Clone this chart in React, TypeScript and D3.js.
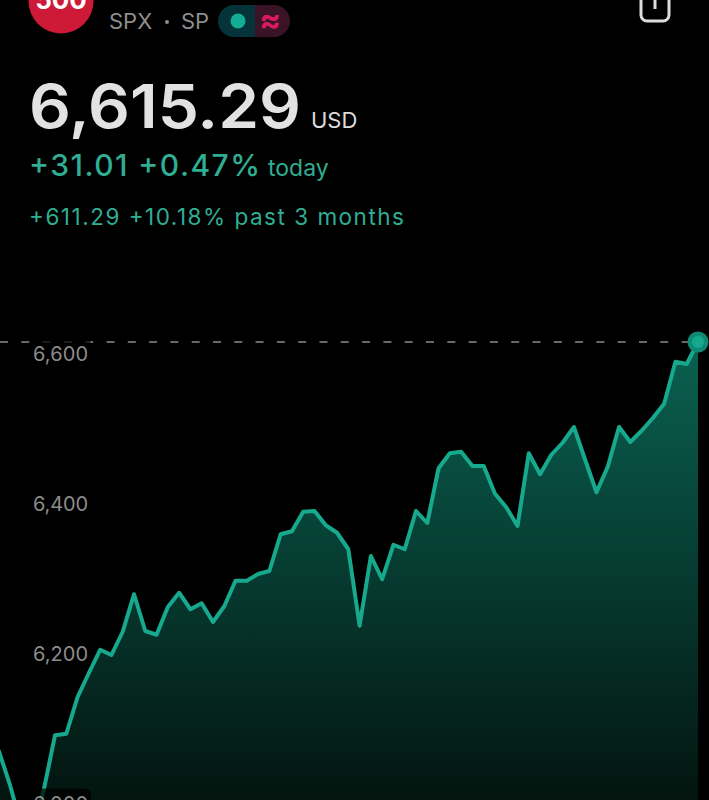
import React from "react";
import * as d3 from "d3";

const W = 709, H = 800;
const prices = [6071,6025,5971,5965,6018,6091,6093,6142,6174,6205,6198,6229,6279,6230,6225,6262,6281,6259,6267,6242,6263,6297,6297,6306,6310,6359,6363,6389,6390,6371,6361,6339,6237,6330,6299,6345,6339,6390,6374,6447,6467,6469,6450,6450,6413,6395,6370,6467,6439,6465,6481,6502,6458,6415,6449,6502,6482,6497,6514,6533,6589,6586,6615.29];
const yTicks = [6000, 6200, 6400, 6600];
const header = { ticker: "SPX", exchange: "SP", price: "6,615.29", currency: "USD", today: "+31.01 +0.47%", period: "+611.29 +10.18% past 3 months" };
const FONT = "Inter, 'Noto Sans', sans-serif";

export default function App() {
  const x = d3.scaleLinear().domain([0, prices.length - 1]).range([698 - 11.28 * (prices.length - 1), 698]);
  const y = d3.scaleLinear().domain([6000, 6600]).range([803.5, 353.5]);
  const line = d3.line<number>().x((_, i) => x(i)).y((d) => y(d));
  const area = d3.area<number>().x((_, i) => x(i)).y0(H).y1((d) => y(d));
  const last = prices[prices.length - 1];
  return (
    <svg width={W} height={H} viewBox={`0 0 ${W} ${H}`} style={{ position: "fixed", left: 0, top: 0, background: "#000", display: "block" }} fontFamily={FONT}>
      <defs>
        <linearGradient id="fill" gradientUnits="userSpaceOnUse" x1="0" x2="0" y1="342" y2="800">
          <stop offset="0" stopColor="#0a6150" />
          <stop offset="0.5" stopColor="#063b31" />
          <stop offset="1" stopColor="#03140f" />
        </linearGradient>
      </defs>
      <rect width={W} height={H} fill="#000" />
      <circle cx={61} cy={1} r={32.5} fill="#cf1a37" />
      <text x={61} y={9} textAnchor="middle" fill="#fff" fontSize={26} fontWeight={700}>500</text>
      <text x={109} y={29} fill="#8e8e8e" fontSize={22}>{header.ticker}</text>
      <circle cx={167} cy={22} r={2} fill="#8e8e8e" />
      <text x={181} y={29} fill="#8e8e8e" fontSize={22}>{header.exchange}</text>
      <path d="M255 5H234a16 16 0 0 0 0 32H255Z" fill="#04343a" />
      <path d="M255 5H274a16 16 0 0 1 0 32H255Z" fill="#3a1426" />
      <circle cx={238} cy={21} r={7.5} fill="#12ad94" />
      <text x={270} y={31} textAnchor="middle" fill="#d81b60" fontSize={32} fontWeight={700}>≈</text>
      <path d="M641 -4V15a6 6 0 0 0 6 6H663a6 6 0 0 0 6 -6V-4" fill="none" stroke="#dcdcdc" strokeWidth={3} />
      <path d="M655 0V9" fill="none" stroke="#dcdcdc" strokeWidth={3} />

      <text x={29} y={128} fill="#e2e2e2" fontSize={60} fontWeight={600} textLength={272} lengthAdjust="spacingAndGlyphs">{header.price}</text>
      <text x={311} y={128} fill="#dcdcdc" fontSize={22}>{header.currency}</text>
      <text x={29} y={176} fill="#2fae93" fontSize={30} fontWeight={500} textLength={231}>{header.today}</text>
      <text x={268} y={176} fill="#2fae93" fontSize={23}>today</text>
      <text x={29} y={225} fill="#2fae93" fontSize={22.5} textLength={375}>{header.period}</text>

      <line x1={0} x2={688} y1={y(last)} y2={y(last)} stroke="#8a8a8a" strokeWidth={1.5} strokeDasharray="8 13.3" />
      <path d={area(prices) ?? ""} fill="url(#fill)" />
      <path d={line(prices) ?? ""} fill="none" stroke="#17a98e" strokeWidth={4} strokeLinejoin="round" />
      {yTicks.map((t) => (
        <g key={t}>
          <rect x={29} y={y(t) - 15} width={62} height={30} rx={6} fill="#000" fillOpacity={0.72} />
          <text x={33} y={y(t) + 7} fill="#8c8c8c" fontSize={20} textLength={55}>{d3.format(",")(t)}</text>
        </g>
      ))}
      <circle cx={x(prices.length - 1)} cy={y(last)} r={10.5} fill="#0e8b75" />
      <circle cx={x(prices.length - 1)} cy={y(last)} r={6} fill="#17a98e" />
    </svg>
  );
}
